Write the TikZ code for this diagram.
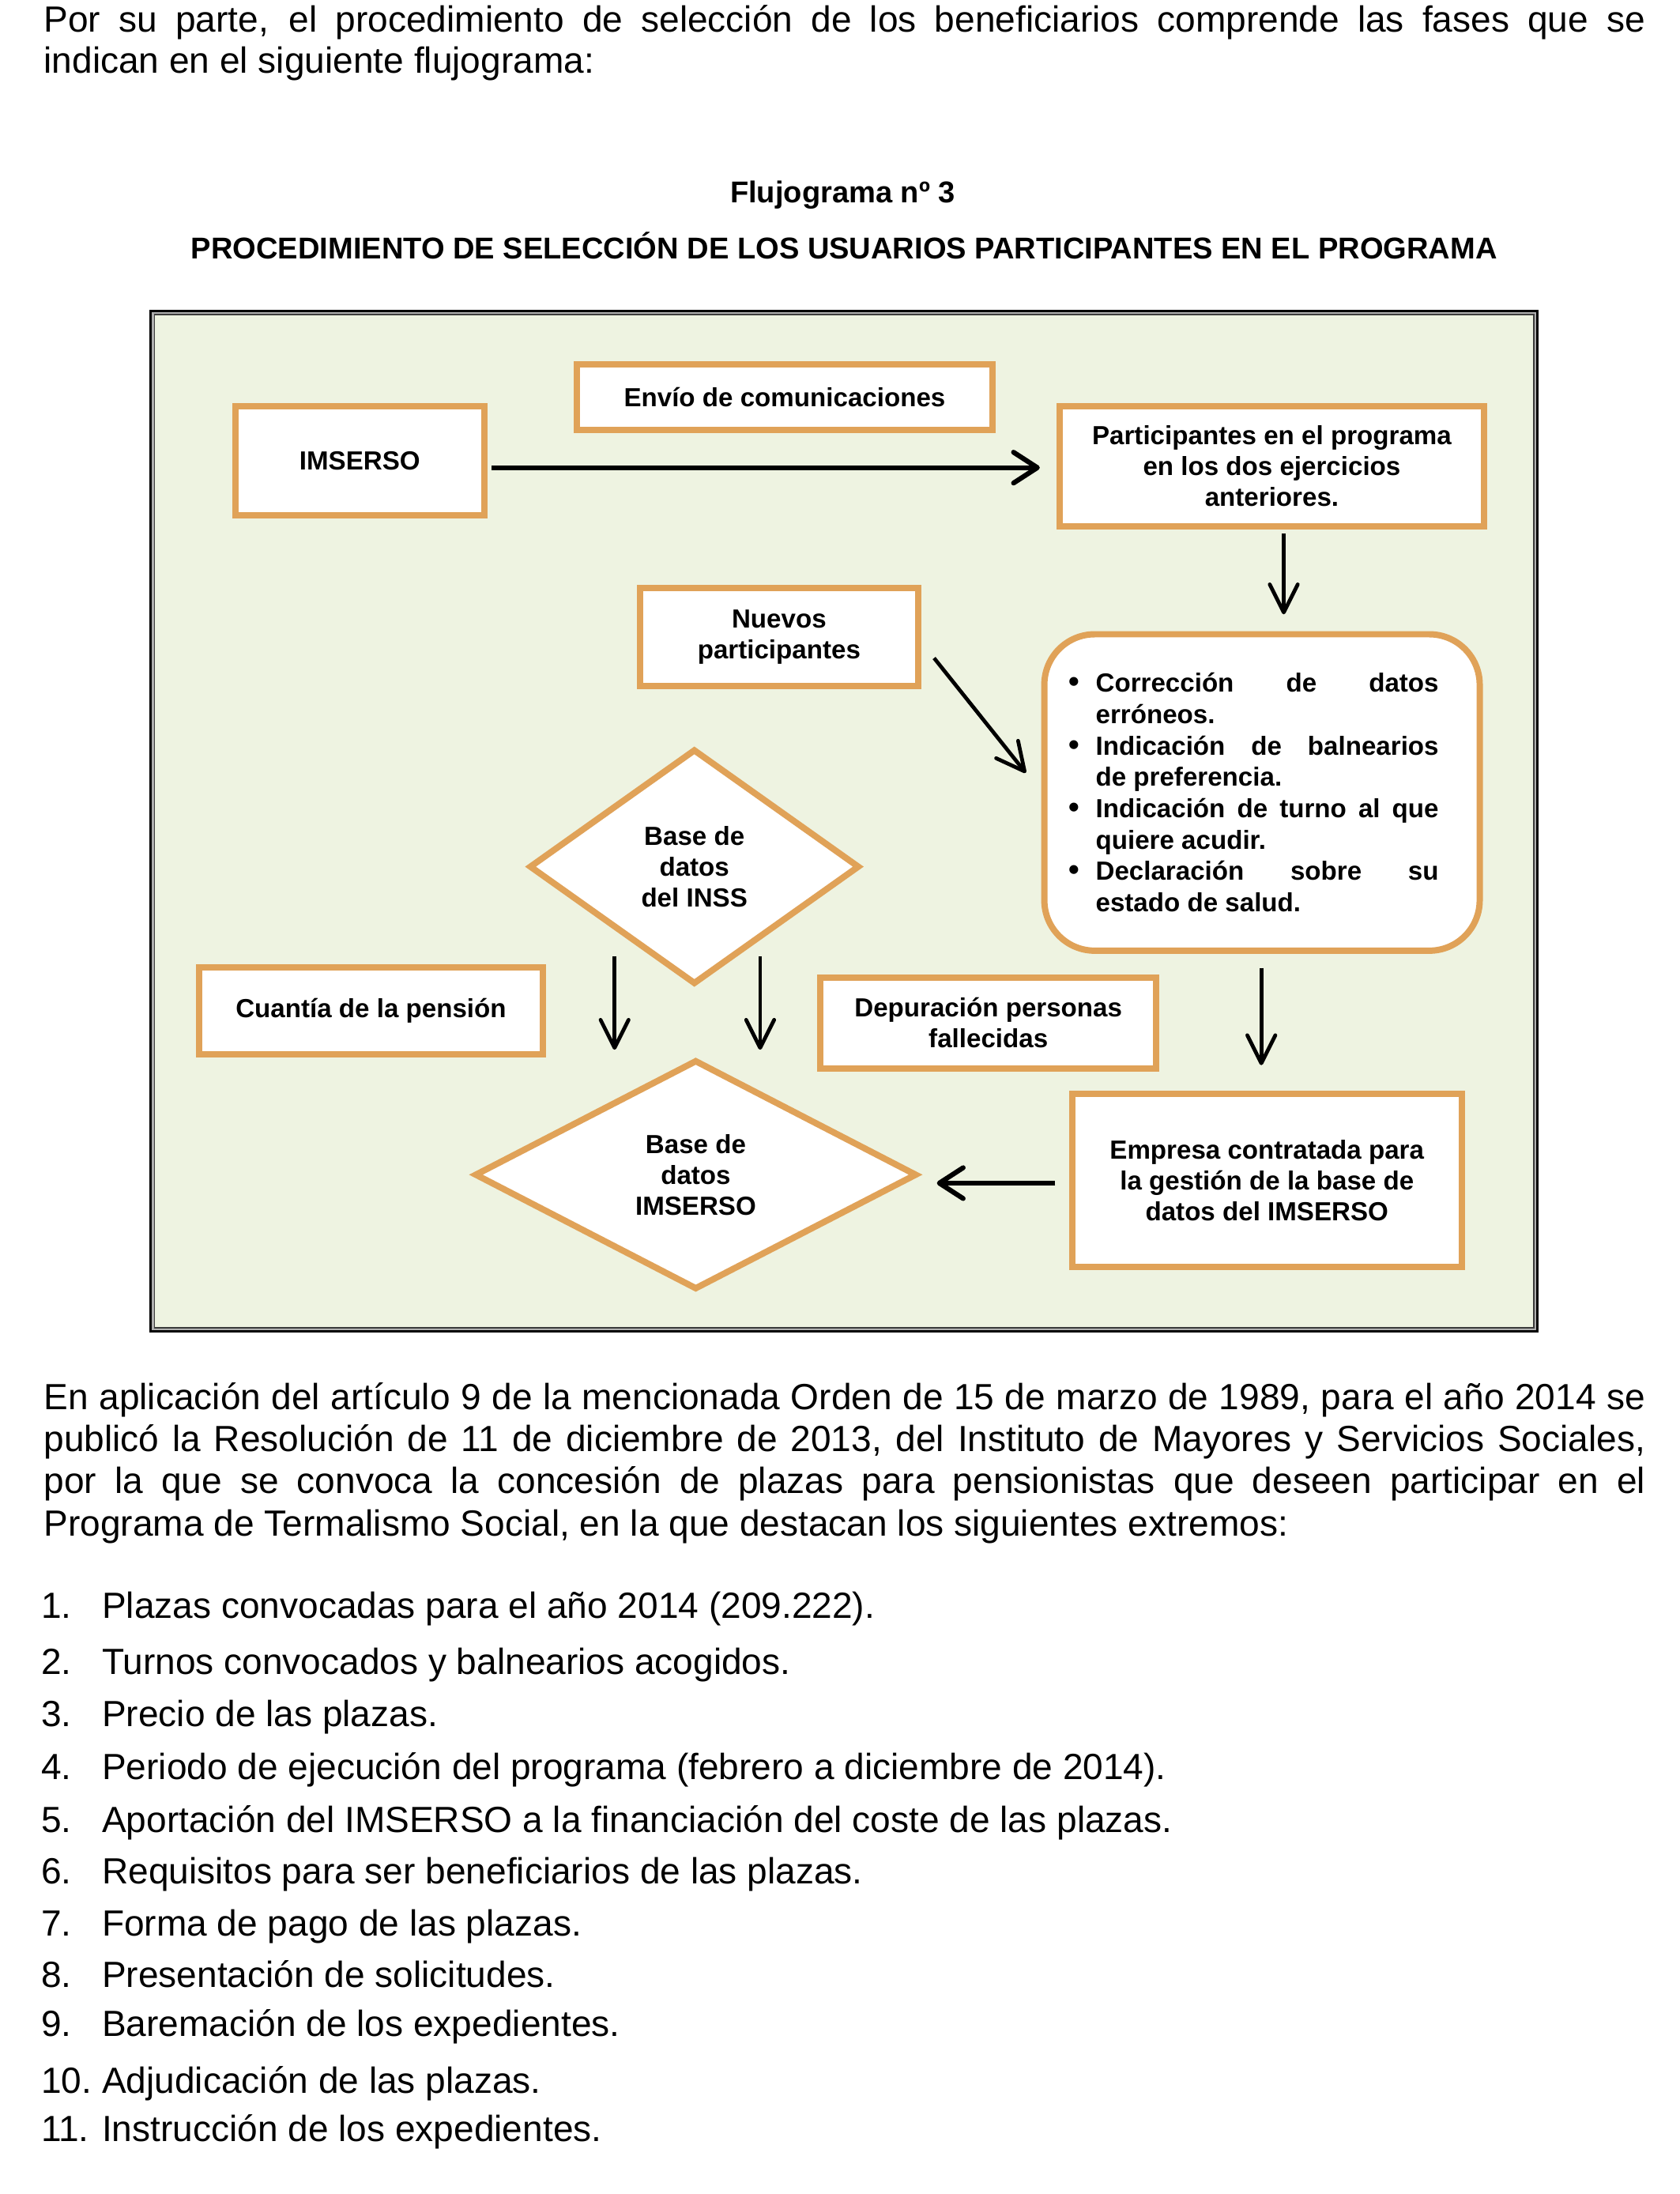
\documentclass[tikz,border=0pt]{standalone}
\usepackage{fontspec}
\setmainfont{Liberation Sans}
\usetikzlibrary{arrows.meta,shapes.geometric,calc}
\definecolor{frameFill}{RGB}{238,243,225}
\definecolor{boxOrange}{RGB}{224,162,88}
\definecolor{gapGray}{RGB}{175,175,175}
\definecolor{innerLine}{RGB}{60,60,60}
\newcommand\bulitem[1]{\hangindent=8.5pt\hangafter=1\noindent\makebox[8.5pt][l]{\hspace*{-1.2pt}\fontsize{11}{11}\selectfont\textbullet}#1\par}
\begin{document}
\begin{tikzpicture}[x=0.5pt,y=-0.5pt,
  bodytext/.style={anchor=base west,inner sep=0pt,font=\fontsize{13}{15}\selectfont},
  titletext/.style={anchor=base,inner sep=0pt,font=\fontsize{10.75}{13}\selectfont\bfseries},
  flowbox/.style={draw=boxOrange,line width=2.25pt,fill=white,align=center,inner sep=0pt,
    font=\fontsize{9.35}{11}\selectfont\bfseries},
  flowdiamond/.style={flowbox,diamond,aspect=1.4},
  arrthick/.style={-{Straight Barb[length=8.5pt,width=11pt,round]},line width=1.75pt},
  arrthin/.style={-{Straight Barb[length=10pt,width=10pt,round]},line width=1.35pt}
]
\useasboundingbox (0,0) rectangle (1200,1567);

% ---- text above ----
\node[bodytext] (p1a) at (31,23) {\makebox[572pt][s]{Por su parte, el procedimiento de selección de los beneficiarios comprende las fases que se}};
\node[bodytext] (p1b) at (31,52) {indican en el siguiente flujograma:};

\node[titletext] (t1) at (602,145) {Flujograma nº 3};
\node[titletext] (t2) at (603,185) {PROCEDIMIENTO DE SELECCIÓN DE LOS USUARIOS PARTICIPANTES EN EL PROGRAMA};

% ---- frame ----
\draw[line width=0.95pt,fill=gapGray] (107.6,222) rectangle (1098.2,951);
\draw[line width=0.45pt,draw=innerLine,fill=frameFill] (110.3,224.8) rectangle (1095.5,948.3);

% ---- nodes ----
\node[flowbox,minimum width=89pt,minimum height=39pt] (imserso) at (257,329) {IMSERSO};
\node[flowbox,minimum width=148.5pt,minimum height=23.5pt] (envio) at (560.5,283.5) {Envío de comunicaciones};
\node[flowbox,minimum width=151.5pt,minimum height=43pt] (part) at (908.5,333) {Participantes en el programa\\en los dos ejercicios\\anteriores.};
\node[flowbox,minimum width=99.5pt,minimum height=35pt] (nuevos) at (556.5,455) {Nuevos\\participantes};
\node[flowbox,rounded corners=18pt,minimum width=155.5pt,minimum height=113pt,text width=131pt,align=justify,
  font=\fontsize{9.35}{11.2}\selectfont\bfseries] (corr) at (901.5,566)
  {\hyphenpenalty=10000 \tolerance=10000 \parindent=0pt
   \leftskip=-2.4pt \rightskip=2.4pt
   \bulitem{Corrección de datos\linebreak erróneos.}
   \bulitem{Indicación de balnearios\linebreak de preferencia.}
   \bulitem{Indicación de turno al que\linebreak quiere acudir.}
   \bulitem{Declaración sobre su\linebreak estado de salud.}};
\node[flowdiamond,minimum width=118pt,minimum height=84pt] (inss) at (496,619) {Base de\\datos\\del INSS};
\node[flowbox,minimum width=123pt,minimum height=31pt] (cuantia) at (265,722) {Cuantía de la pensión};
\node[flowbox,minimum width=120pt,minimum height=32.5pt] (depur) at (706,730.5) {Depuración personas\\fallecidas};
\node[flowbox,minimum width=139pt,minimum height=62pt] (empresa) at (905,843) {Empresa contratada para\\la gestión de la base de\\datos del IMSERSO};
\node[flowdiamond,minimum width=158pt,minimum height=82pt] (bdim) at (497,839) {Base de\\datos\\IMSERSO};

% ---- connectors ----
\draw[arrthick] ($(imserso.east)+(3,5)$) -- ($(part.west)+(-12,1)$);
\draw[arrthin] ($(part.south)+(8.5,3)$) -- ($(corr.north)+(15.5,-12)$);
\draw[arrthin] ($(nuevos.east)+(9,15)$) -- ($(corr.west)+(-11,-14)$);
\draw[arrthin] ($(inss.south)+(-57,-22)$) -- ($(bdim.north)+(-58,-5)$);
\draw[arrthin] ($(inss.south)+(47,-22)$) -- ($(bdim.north)+(46,-5)$);
\draw[arrthin] ($(corr.south)+(-0.5,10)$) -- ($(empresa.north)+(-4,-18)$);
\draw[arrthick] ($(empresa.west)+(-10,2)$) -- ($(bdim.east)+(12,6)$);

% ---- text below ----
\node[bodytext] (p2a) at (31,1006.8) {\makebox[572pt][s]{En aplicación del artículo 9 de la mencionada Orden de 15 de marzo de 1989, para el año 2014 se}};
\node[bodytext] (p2b) at (31,1036.8) {\makebox[572pt][s]{publicó la Resolución de 11 de diciembre de 2013, del Instituto de Mayores y Servicios Sociales,}};
\node[bodytext] (p2c) at (31,1066.8) {\makebox[572pt][s]{por la que se convoca la concesión de plazas para pensionistas que deseen participar en el}};
\node[bodytext] (p2d) at (31,1096.8) {Programa de Termalismo Social, en la que destacan los siguientes extremos:};

\node[bodytext] (n1) at (29,1155.9) {1.};
\node[bodytext] (i1) at (72.5,1155.9) {Plazas convocadas para el año 2014 (209.222).};
\node[bodytext] (n2) at (29,1195.6) {2.};
\node[bodytext] (i2) at (72.5,1195.6) {Turnos convocados y balnearios acogidos.};
\node[bodytext] (n3) at (29,1233.3) {3.};
\node[bodytext] (i3) at (72.5,1233.3) {Precio de las plazas.};
\node[bodytext] (n4) at (29,1270.9) {4.};
\node[bodytext] (i4) at (72.5,1270.9) {Periodo de ejecución del programa (febrero a diciembre de 2014).};
\node[bodytext] (n5) at (29,1308.6) {5.};
\node[bodytext] (i5) at (72.5,1308.6) {Aportación del IMSERSO a la financiación del coste de las plazas.};
\node[bodytext] (n6) at (29,1345.6) {6.};
\node[bodytext] (i6) at (72.5,1345.6) {Requisitos para ser beneficiarios de las plazas.};
\node[bodytext] (n7) at (29,1382.6) {7.};
\node[bodytext] (i7) at (72.5,1382.6) {Forma de pago de las plazas.};
\node[bodytext] (n8) at (29,1419.6) {8.};
\node[bodytext] (i8) at (72.5,1419.6) {Presentación de solicitudes.};
\node[bodytext] (n9) at (29,1454.3) {9.};
\node[bodytext] (i9) at (72.5,1454.3) {Baremación de los expedientes.};
\node[bodytext] (n10) at (29,1494.8) {10.};
\node[bodytext] (i10) at (72.5,1494.8) {Adjudicación de las plazas.};
\node[bodytext] (n11) at (29,1529.6) {11.};
\node[bodytext] (i11) at (72.5,1529.6) {Instrucción de los expedientes.};
\end{tikzpicture}
\end{document}
